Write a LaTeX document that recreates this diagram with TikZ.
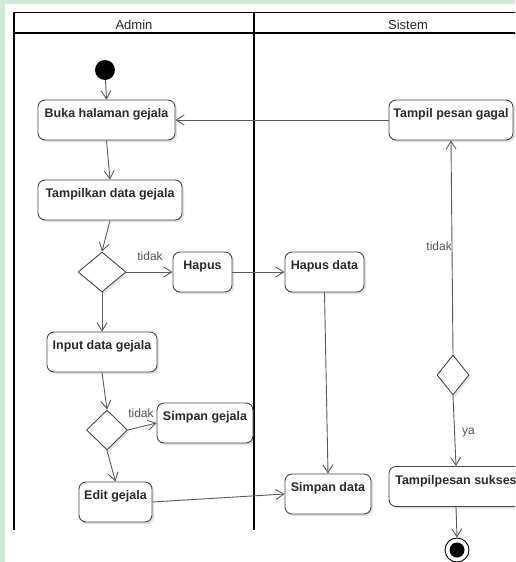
\documentclass[tikz,border=0pt]{standalone}
\usepackage{fontspec}
\setmainfont{Liberation Sans}
\usetikzlibrary{arrows.meta,shapes.geometric,shadows}
\definecolor{linegray}{HTML}{5A5A5A}
\definecolor{boxline}{HTML}{474747}
\definecolor{txt}{HTML}{2A2A2A}
\definecolor{lbltxt}{HTML}{555555}
\definecolor{paleg}{HTML}{CFE8D8}
\begin{document}
\begin{tikzpicture}[x=1pt,y=-1pt,
  act/.style={draw=boxline, line width=0.9pt, rounded corners=7pt, fill=white,
    font=\fontsize{12.5}{14}\selectfont\bfseries, text=txt,
    inner xsep=2pt, inner ysep=0pt, text height=17.5pt, text depth=22.5pt,
    drop shadow={shadow xshift=2pt, shadow yshift=-2pt, opacity=0.12, fill=black}},
  choice/.style={draw=boxline, line width=0.9pt, diamond, aspect=1, fill=white,
    inner sep=0pt, minimum width=40pt, minimum height=40pt,
    drop shadow={shadow xshift=2pt, shadow yshift=-2pt, opacity=0.10, fill=black}},
  flow/.style={draw=linegray, line width=0.9pt,
    -{Straight Barb[length=8pt,width=10pt,line width=0.9pt]}},
  lbl/.style={font=\fontsize{12}{14}\selectfont, text=lbltxt, inner sep=0pt},
  lane/.style={draw=black, line width=1.6pt},
  head/.style={font=\fontsize{13}{15}\selectfont, text=txt, inner sep=0pt}]
\useasboundingbox (0,0) rectangle (515,562);
\clip (0,0) rectangle (515,562);
% page ground
\fill[paleg] (0,0) rectangle (515,562);
\fill[white] (5,4) rectangle (515,562);

% swimlanes
\draw[lane] (14,530) -- (14,12.5) -- (530,12.5);
\draw[lane, line width=1.3pt] (14,33) -- (530,33);
\draw[lane] (254,12.5) -- (254,530);
\node[head, anchor=base] (admin) at (134,29) {Admin};
\node[head, anchor=base] (sistem) at (408,29) {Sistem};

% start and end
\node[circle, fill=black, minimum size=20pt, inner sep=0pt] (start) at (105,70) {};
\node[circle, draw=black, line width=0.9pt, fill=white, minimum size=24pt, inner sep=0pt] (final) at (457,550) {};
\node[circle, fill=black, minimum size=15pt, inner sep=0pt] (finaldot) at (final) {};

% actions
\node[act, minimum width=137pt] (buka) at (106.5,120) {Buka halaman gejala};
\node[act, minimum width=124pt] (gagal) at (451,120) {Tampil pesan gagal};
\node[act, minimum width=144pt] (tampil) at (110,200) {Tampilkan data gejala};
\node[act, minimum width=59pt] (hapus) at (202.5,272) {Hapus};
\node[act, minimum width=79pt] (hapusdata) at (324.5,272) {Hapus data};
\node[act, minimum width=110pt] (input) at (102,352) {Input data gejala};
\node[act, minimum width=96pt] (simpang) at (205,423) {Simpan gejala};
\node[act, minimum width=73pt] (edit) at (115.5,502) {Edit gejala};
\node[act, minimum width=86pt] (simpandata) at (328,494) {Simpan data};
\node[act, minimum width=134pt] (sukses) at (456,486.5) {Tampilpesan sukses};

% decisions
\node[choice, minimum width=48pt] (d1) at (102,272) {};
\node[choice, minimum width=41pt] (d2) at (107,430) {};
\node[choice, minimum width=32pt] (d3) at (453,375) {};

% flows
\draw[flow] (start) -- (buka.north);
\draw[flow] (gagal.west) -- (buka.east);
\draw[flow] (buka.south) -- (tampil.north);
\draw[flow] (tampil.south) -- (d1.north);
\draw[flow] (d1.east) -- (hapus.west);
\draw[flow] (hapus.east) -- (hapusdata.west);
\draw[flow] (d1.south) -- (input.north);
\draw[flow] (input.south) -- (d2.north);
\draw[flow] (d2.east) -- (simpang.west);
\draw[flow] (d2.south) -- (edit.north);
\draw[flow] (edit.east) -- (simpandata.west);
\draw[flow] (hapusdata.south) -- (simpandata.north);
\draw[flow] (d3.north) -- (gagal.south);
\draw[flow] (d3.south) -- (sukses.north);
\draw[flow] (sukses.south) -- (final.north);

% guard labels
\node[lbl, anchor=base] (t1) at (150,260.5) {tidak};
\node[lbl, anchor=base] (t2) at (141,417) {tidak};
\node[lbl, anchor=base east] (t3) at (452,250.5) {tidak};
\node[lbl, anchor=base west] (ya) at (462,434) {ya};
\end{tikzpicture}
\end{document}
